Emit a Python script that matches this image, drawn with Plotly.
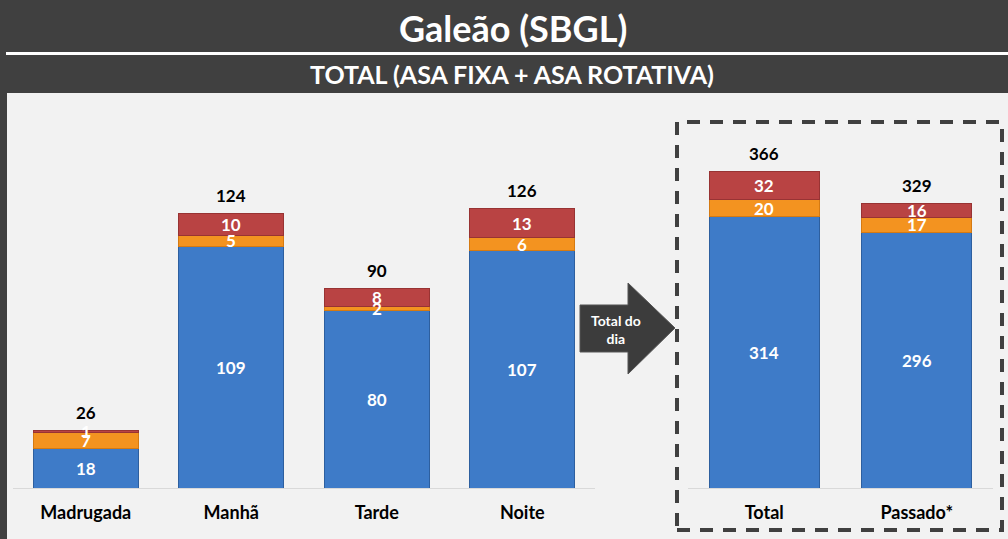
import plotly.graph_objects as go

# Movimentos por período do dia (Galeão - SBGL)
periodos = ["Madrugada", "Manhã", "Tarde", "Noite"]
asa_fixa_periodo = [18, 109, 80, 107]
asa_rot_periodo = [7, 5, 2, 6]
outros_periodo = [1, 10, 8, 13]

resumo = ["Total", "Passado*"]
asa_fixa_resumo = [314, 296]
asa_rot_resumo = [20, 17]
outros_resumo = [32, 16]

W, H = 1008, 539
FONT = "Lato"
AZUL, LARANJA, VERMELHO = "#3e7bc8", "#f39320", "#b94343"
CONTORNO = {AZUL: "#2d5f9f", LARANJA: "#d57a12", VERMELHO: "#983333"}


def px(x):
    return x / W


def py(y):
    return 1 - y / H


fig = go.Figure()


def add_stack(cats, series, xa, ya):
    for vals, cor in zip(series, [AZUL, LARANJA, VERMELHO]):
        fig.add_trace(go.Bar(
            x=cats, y=vals, xaxis=xa, yaxis=ya, width=0.72,
            marker=dict(color=cor, line=dict(color=CONTORNO[cor], width=1)),
            hoverinfo="x+y", showlegend=False,
        ))
    # rótulos dos segmentos e totais
    for i, c in enumerate(cats):
        base = 0
        for vals in series:
            fig.add_annotation(x=c, y=base + vals[i] / 2, xref=xa, yref=ya,
                               text=f"<b>{vals[i]}</b>", showarrow=False,
                               font=dict(family=FONT, size=17, color="white"))
            base += vals[i]
        fig.add_annotation(x=c, y=base, xref=xa, yref=ya, yshift=18,
                           text=f"<b>{base}</b>", showarrow=False,
                           font=dict(family=FONT, size=17, color="black"))


add_stack(periodos, [asa_fixa_periodo, asa_rot_periodo, outros_periodo], "x", "y")
add_stack(resumo, [asa_fixa_resumo, asa_rot_resumo, outros_resumo], "x2", "y2")

base_px, topo_px = 488, 110
dom_y = [py(base_px), py(topo_px)]
altura = base_px - topo_px

eixo_x = dict(showline=True, linecolor="#d9d9d9", linewidth=1, showgrid=False,
              ticks="outside", ticklen=8, tickcolor="rgba(0,0,0,0)",
              tickfont=dict(family=FONT, size=18, color="black", weight="bold"),
              fixedrange=True)
eixo_y = dict(visible=False, showgrid=False, zeroline=False, fixedrange=True)

fig.update_layout(
    width=W, height=H, margin=dict(l=0, r=0, t=0, b=0),
    paper_bgcolor="#404040", plot_bgcolor="rgba(0,0,0,0)",
    barmode="stack", bargap=0.28,
    xaxis=dict(eixo_x, domain=[px(13), px(595)]),
    xaxis2=dict(eixo_x, domain=[px(688), px(993)], anchor="y2"),
    yaxis=dict(eixo_y, domain=dom_y, range=[0, altura / 2.217]),
    yaxis2=dict(eixo_y, domain=dom_y, range=[0, altura / 0.864], anchor="x2"),
)

# fundo, faixas do título, caixa tracejada e seta
fig.add_shape(type="rect", xref="paper", yref="paper", layer="below",
              x0=px(6), x1=1, y0=py(55), y1=py(52), fillcolor="white", line_width=0)
fig.add_shape(type="rect", xref="paper", yref="paper", layer="below",
              x0=px(7), x1=1, y0=0, y1=py(93), fillcolor="#f2f2f2", line_width=0)
fig.add_shape(type="rect", xref="paper", yref="paper", layer="below",
              x0=px(677), x1=px(1002), y0=py(530), y1=py(122),
              line=dict(color="#404040", width=4, dash="13px,10px"))

seta = [(580, 305), (628, 305), (628, 283), (675, 328), (628, 374), (628, 352), (580, 352)]
caminho = "M " + " L ".join(f"{px(x):.5f},{py(y):.5f}" for x, y in seta) + " Z"
fig.add_shape(type="path", xref="paper", yref="paper", path=caminho,
              fillcolor="#3c3c3c", line=dict(color="#555555", width=1))
fig.add_annotation(x=px(616), y=py(329), xref="paper", yref="paper", showarrow=False,
                   xanchor="center", yanchor="middle",
                   text="<b>Total do<br>dia</b>",
                   font=dict(family=FONT, size=14, color="white"))

fig.add_annotation(x=px(513), y=py(28), xref="paper", yref="paper", showarrow=False,
                   xanchor="center", yanchor="middle",
                   text="<b>Galeão (SBGL)</b>",
                   font=dict(family=FONT, size=36, color="white"))
fig.add_annotation(x=px(512), y=py(74), xref="paper", yref="paper", showarrow=False,
                   xanchor="center", yanchor="middle",
                   text="<b>TOTAL (ASA FIXA + ASA ROTATIVA)</b>",
                   font=dict(family=FONT, size=25, color="white"))

fig.write_html("out.html", config={"displayModeBar": False},
               post_script="document.body.style.margin='0';document.body.style.overflow='hidden';")
